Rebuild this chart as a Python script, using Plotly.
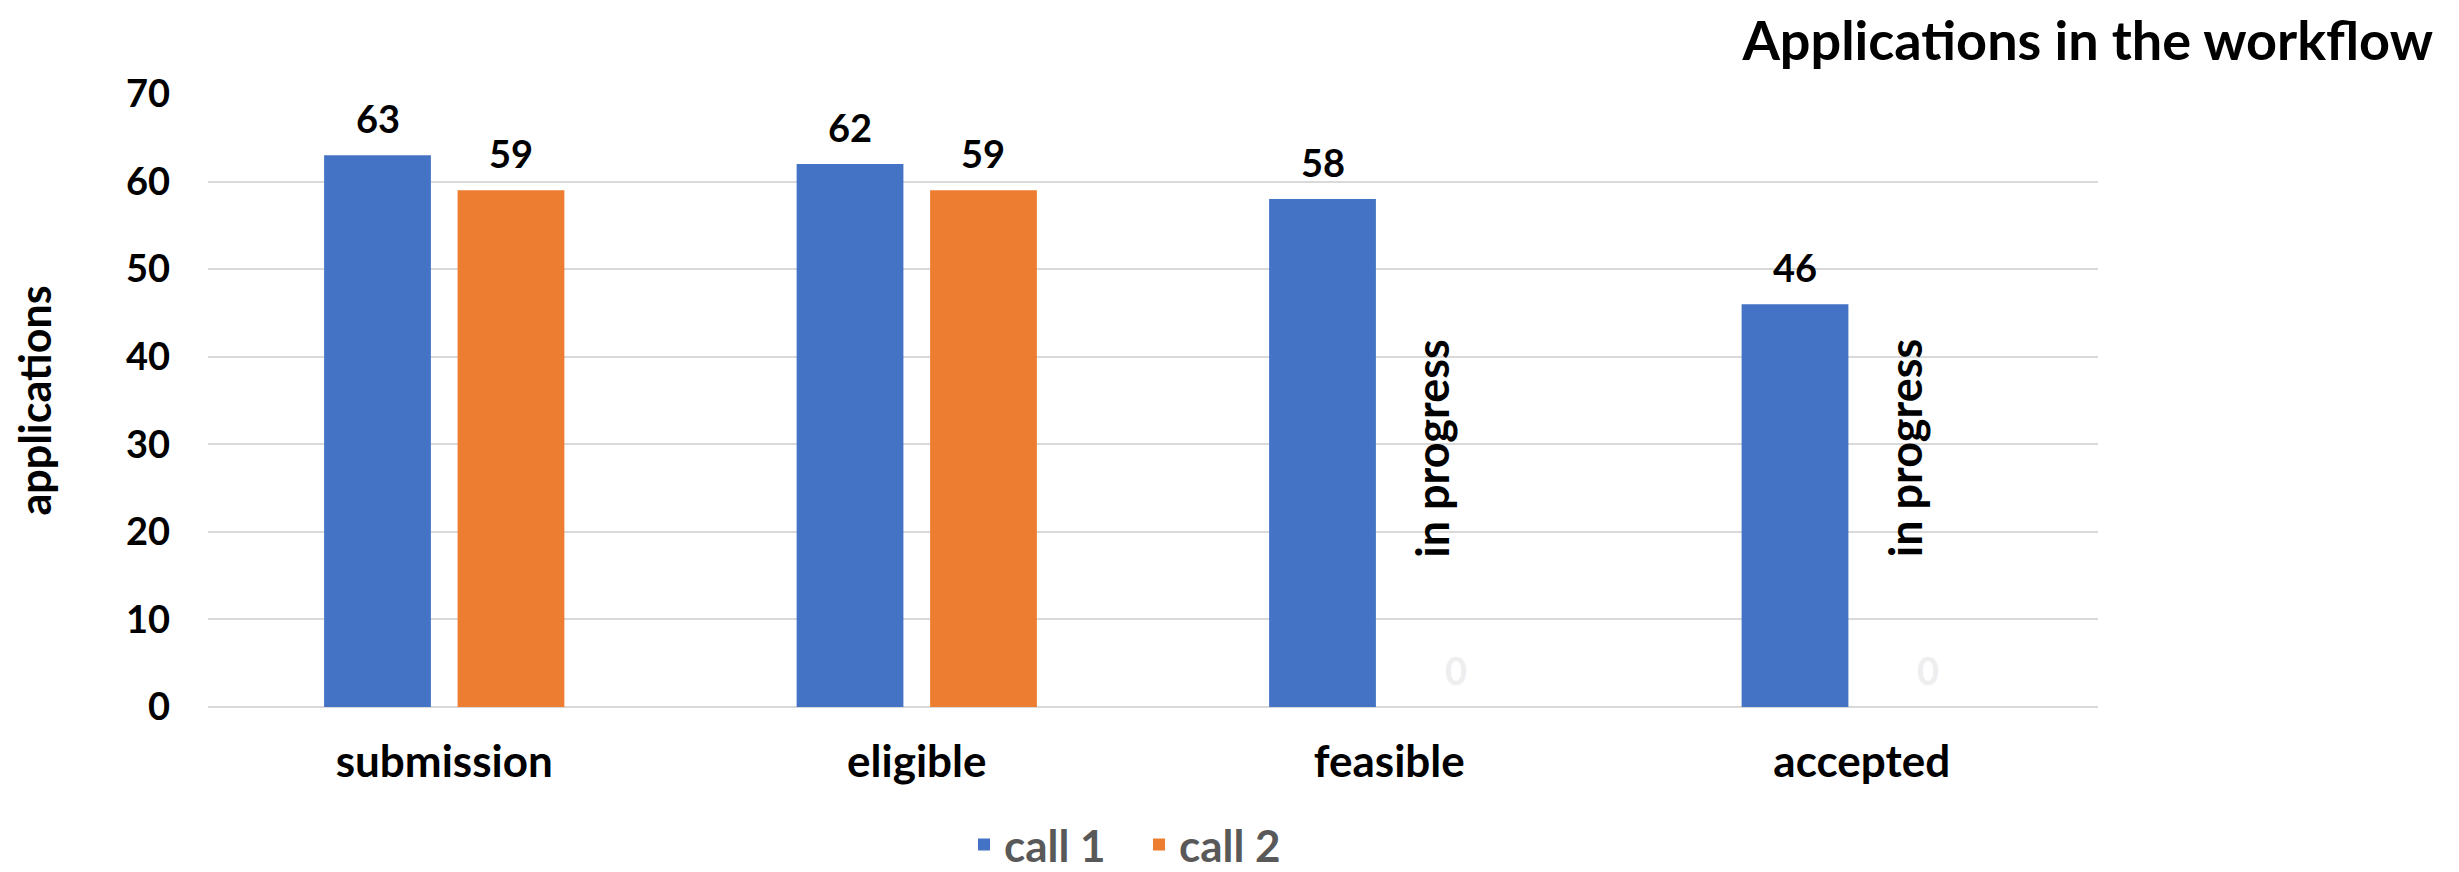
import plotly.graph_objects as go

categories = ["submission", "eligible", "feasible", "accepted"]
call1 = [63, 62, 58, 46]
call2 = [59, 59, 0, 0]
series_names = ["call 1", "call 2"]
series_colors = ["#4472C4", "#ED7D31"]
y_ticks = [0, 10, 20, 30, 40, 50, 60, 70]
note_text = "in progress"
note_y = 29.6
title_text = "Applications in the workflow"
y_title = "applications"

FONT = "Lato"
BARGAP = 0.435
W, H = 2451, 864  # page body has an 8px margin

fig = go.Figure()
for name, vals, col in zip(series_names, [call1, call2], series_colors):
    fig.add_trace(go.Bar(
        x=categories, y=vals, name=name,
        marker=dict(color=col, line=dict(width=0)),
        hoverinfo="skip",
    ))

annotations = []
offset = (1 - BARGAP) / 4
for si, vals in enumerate([call1, call2]):
    sign = -1 if si == 0 else 1
    for j, v in enumerate(vals):
        annotations.append(dict(
            x=j + sign * offset, y=v, xref="x", yref="y",
            text=str(v), showarrow=False, yshift=37,
            xanchor="center", yanchor="middle",
            font=dict(family=FONT, size=38, weight="bold",
                      color="#000000" if v != 0 else "#EEEEEE"),
        ))
        if si == 1 and v == 0:
            annotations.append(dict(
                x=j + offset, y=note_y, xref="x", yref="y",
                text=note_text, showarrow=False, textangle=-90,
                xshift=-24, xanchor="center", yanchor="middle",
                font=dict(family=FONT, size=45, weight="bold", color="#000000"),
            ))

annotations.append(dict(
    x=(26 - 200) / 1890, y=0.5, xref="paper", yref="paper",
    text=y_title, showarrow=False, textangle=-90,
    xanchor="center", yanchor="middle",
    font=dict(family=FONT, size=43, weight="bold", color="#000000"),
))

fig.update_layout(
    width=W, height=H,
    margin=dict(l=200, r=361, t=86, b=165, autoexpand=False),
    paper_bgcolor="white", plot_bgcolor="white",
    barmode="group", bargap=BARGAP, bargroupgap=0.2,
    title=dict(text=title_text, xref="container", yref="container",
               x=2425 / W, xanchor="right", y=1 - 33 / H, yanchor="middle",
               font=dict(family=FONT, size=54, weight="bold", color="#000000")),
    font=dict(family=FONT, color="#000000"),
    showlegend=True,
    legend=dict(orientation="h", x=0.400, xanchor="left",
                y=-0.225, yanchor="middle", entrywidth=130,
                font=dict(family=FONT, size=44, weight="bold", color="#595959"),
                itemclick=False),
    annotations=annotations,
)
fig.update_xaxes(
    type="category", showgrid=False, showline=False, ticks="",
    ticklabelstandoff=25,
    tickfont=dict(family=FONT, size=44, weight="bold", color="#000000"),
)
fig.update_yaxes(
    range=[0, 70], tickvals=y_ticks, showgrid=True, gridcolor="#D9D9D9", gridwidth=2,
    zeroline=True, zerolinecolor="#D9D9D9", zerolinewidth=2,
    showline=False, ticks="", ticklabelstandoff=37,
    tickfont=dict(family=FONT, size=38, weight="bold", color="#000000"),
)

fig.write_html("out.html")
